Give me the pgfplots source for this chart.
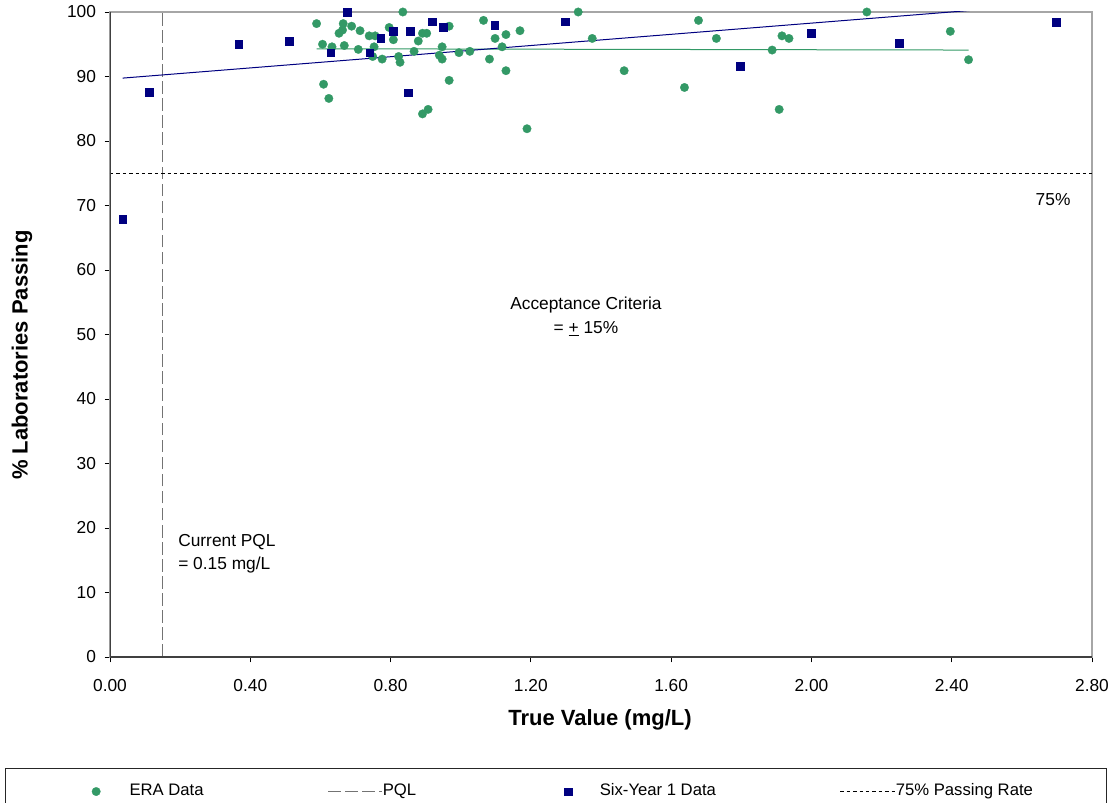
\documentclass[border=0pt]{standalone}
\usepackage{fontspec}
\setmainfont{Liberation Sans}
\usepackage{pgfplots}
\pgfplotsset{compat=1.18}
\definecolor{era}{HTML}{339966}
\definecolor{six}{HTML}{000080}
\definecolor{frame}{HTML}{A6A6A6}
\pgfplotsset{
  eraleg/.style={legend image code/.code={\path[draw=none,fill=none] (-68pt,-1pt) rectangle (25pt,1pt); \draw[##1] plot coordinates {(0pt,0pt)};}},
  pqlleg/.style={legend image code/.code={\draw[##1] (0pt,0pt) -- (40.5pt,0pt);}},
  sixleg/.style={legend image code/.code={\path[draw=none,fill=none] (-22.5pt,-1pt) rectangle (24pt,1pt); \draw[##1] plot coordinates {(0pt,0pt)};}},
  passleg/.style={legend image code/.code={\draw[##1] (0pt,0pt) -- (41.25pt,0pt);}},
}
\begin{document}
\begin{tikzpicture}
\path[use as bounding box] (-82.5pt,-109.5pt) rectangle (753pt,492.75pt);
\begin{axis}[
  at={(0pt,0pt)}, anchor=south west,
  scale only axis, width=736.5pt, height=483.75pt,
  xmin=0, xmax=2.8, ymin=0, ymax=100,
  xtick={0,0.4,0.8,1.2,1.6,2,2.4,2.8},
  ytick={0,10,20,30,40,50,60,70,80,90,100},
  axis line style={draw=frame, line width=1pt},
  tick align=outside, xtick pos=bottom, ytick pos=left,
  major tick length=4pt,
  tick style={black, line width=0.6pt},
  tick label style={font=\fontsize{13}{15}\selectfont},
  /pgf/number format/assume math mode=true,
  xticklabel style={/pgf/number format/fixed, /pgf/number format/fixed zerofill, /pgf/number format/precision=2, yshift=-9pt},
  yticklabel style={xshift=-3pt},
  xlabel={True Value (mg/L)},
  ylabel={\% Laboratories Passing},
  xlabel style={at={(axis description cs:0.499,-0.0977)}, anchor=center, font=\fontsize{16.5}{19}\selectfont\bfseries},
  ylabel style={at={(axis description cs:-0.0896,0.468)}, anchor=center, font=\fontsize{16.5}{19}\selectfont\bfseries},
  legend columns=4,
  legend style={at={(axis description cs:-0.10692,-0.17132)}, anchor=north west,
    draw=black!85, line width=0.75pt, fill=white,
    inner xsep=0pt, inner ysep=11.9pt,
    nodes={inner sep=0pt, text height=9pt, text depth=2.5pt, font=\fontsize{12.5}{15}\selectfont},
    /tikz/every even column/.style={column sep=0pt},
    /tikz/every odd column/.style={column sep=0pt}},
  legend cell align=left,
]
% ERA data
\addplot[only marks, mark=*, mark size=3.2pt, color=era, mark options={draw=era, fill=era, line width=0.2pt}, eraleg]
coordinates {
(0.589,98.2) (0.606,95.0) (0.609,88.8) (0.624,86.6) (0.633,94.6) (0.653,96.7)
(0.663,97.2) (0.665,98.2) (0.668,94.8) (0.689,97.8) (0.708,94.2) (0.713,97.1)
(0.739,96.3) (0.749,93.1) (0.753,94.6) (0.756,96.3) (0.776,92.7) (0.796,97.6)
(0.808,95.7) (0.823,93.1) (0.827,92.2) (0.835,100) (0.867,93.9) (0.879,95.5)
(0.891,96.7) (0.891,84.2) (0.903,96.7) (0.907,84.9) (0.939,93.3) (0.947,94.6)
(0.947,92.7) (0.967,97.8) (0.967,89.4) (0.995,93.7) (1.026,93.9) (1.065,98.7)
(1.082,92.7) (1.098,95.9) (1.118,94.6) (1.129,96.5) (1.129,90.9) (1.169,97.1)
(1.189,81.9) (1.335,100) (1.375,95.9) (1.466,90.9) (1.638,88.3) (1.678,98.7)
(1.729,95.9) (1.888,94.1) (1.908,84.9) (1.916,96.3) (1.936,95.9) (2.158,100)
(2.396,97.0) (2.448,92.6)
};
\addlegendentry{\makebox[148.5pt][l]{ERA Data}}
% PQL
\addplot[black!55, line width=1pt, dash pattern=on 9.4pt off 3.4pt, pqlleg]
coordinates {(0.15,0) (0.15,100)};
\addlegendentry{\makebox[116.25pt][l]{PQL}}
% Six-Year 1
\addplot[only marks, mark=square*, mark size=2.9pt, color=six, mark options={draw=six, fill=six, line width=0.2pt}, sixleg]
coordinates {
(0.036,67.9) (0.112,87.6) (0.367,95.0) (0.510,95.5) (0.677,100) (0.629,93.7)
(0.740,93.7) (0.772,95.9) (0.807,97.0) (0.851,87.5) (0.855,97.0) (0.919,98.5)
(0.950,97.6) (1.097,98.0) (1.297,98.5) (1.796,91.6) (1.999,96.7) (2.250,95.2)
(2.697,98.4)
};
\addlegendentry{\makebox[180pt][l]{Six-Year 1 Data}}
% 75% line
\addplot[black, line width=0.75pt, dash pattern=on 2.6pt off 2.2pt, passleg]
coordinates {(0,75) (2.8,75)};
\addlegendentry{\makebox[158pt][l]{75\% Passing Rate}}
% trend lines
\addplot[forget plot, era, line width=0.75pt] coordinates {(0.589,94.3) (2.448,94.1)};
\addplot[forget plot, six, line width=0.75pt] coordinates {(0.036,89.75) (2.697,101.3)};
% darker left and bottom axis lines
\draw[black!75, line width=1pt] (rel axis cs:0,1) -- (rel axis cs:0,0) -- (rel axis cs:1,0);
% annotations
\node[align=center, font=\fontsize{13}{18}\selectfont] at (axis cs:1.357,52.8) {Acceptance Criteria\\= \underline{+} 15\%};
\node[align=left, anchor=west, inner sep=0pt, font=\fontsize{13}{17.5}\selectfont] at (axis cs:0.194,16.0) {Current PQL\\= 0.15 mg/L};
\node[font=\fontsize{13}{15}\selectfont] at (axis cs:2.689,70.9) {75\%};
\end{axis}
\end{tikzpicture}
\end{document}
